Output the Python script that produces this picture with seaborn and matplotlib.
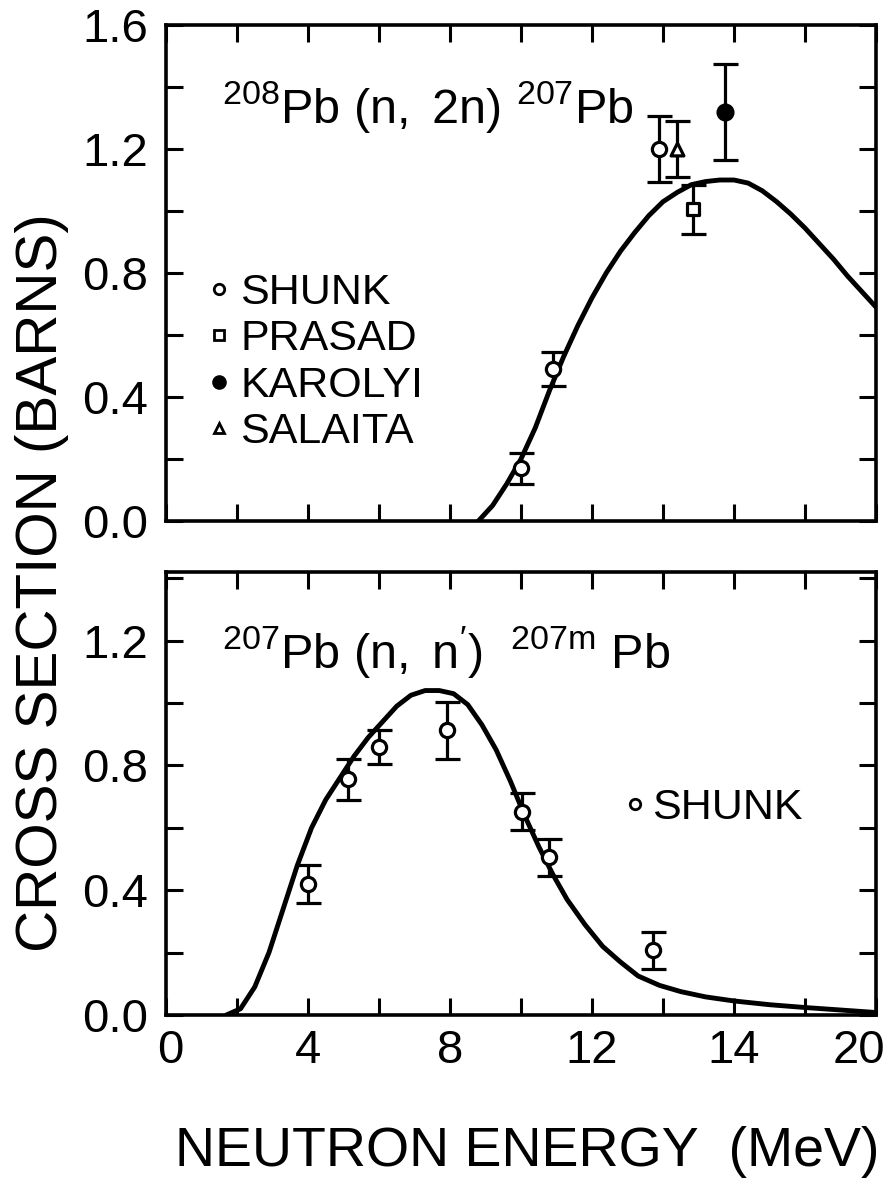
import matplotlib
matplotlib.use("Agg")
import matplotlib.pyplot as plt
import seaborn as sns
from matplotlib.lines import Line2D
from matplotlib.transforms import ScaledTranslation
from matplotlib.ticker import MultipleLocator, FixedLocator, FixedFormatter, FormatStrFormatter

# ---- 208Pb(n,2n)207Pb : calculated excitation function ----
n2n_curve_e = [8.8, 9.2, 9.6, 10.0, 10.4, 10.8, 11.2, 11.6, 12.0, 12.4, 12.8, 13.2,
               13.6, 14.0, 14.4, 14.8, 15.2, 15.6, 16.0, 16.4, 16.8, 17.2, 17.6,
               18.0, 18.4, 18.8, 19.2, 19.6, 20.0]
n2n_curve_xs = [0.00, 0.05, 0.12, 0.20, 0.30, 0.42, 0.53, 0.63, 0.72, 0.80, 0.87, 0.93,
                0.985, 1.03, 1.06, 1.085, 1.095, 1.10, 1.10, 1.09, 1.065, 1.03, 0.99,
                0.945, 0.895, 0.845, 0.79, 0.74, 0.69]

# measured points (energy MeV, cross section b, error b)
shunk_e, shunk_xs, shunk_err = [10.0, 10.9, 13.9], [0.17, 0.49, 1.20], [0.05, 0.055, 0.105]
prasad_e, prasad_xs, prasad_err = [14.85], [1.005], [0.08]
karolyi_e, karolyi_xs, karolyi_err = [15.75], [1.32], [0.155]
salaita_e, salaita_xs, salaita_err = [14.4], [1.20], [0.09]

# ---- 207Pb(n,n')207mPb : calculated excitation function ----
inel_curve_e = [1.7, 2.1, 2.5, 2.9, 3.3, 3.7, 4.1, 4.5, 4.9, 5.3, 5.7, 6.1, 6.5, 6.9,
                7.3, 7.7, 8.1, 8.5, 8.9, 9.3, 9.7, 10.1, 10.5, 10.9, 11.3, 11.8,
                12.3, 12.8, 13.3, 13.9, 14.5, 15.2, 16.0, 17.0, 18.0, 19.0, 20.0]
inel_curve_xs = [0.0, 0.02, 0.09, 0.20, 0.34, 0.48, 0.60, 0.69, 0.76, 0.83, 0.89, 0.94,
                 0.99, 1.025, 1.04, 1.04, 1.03, 0.995, 0.93, 0.85, 0.75, 0.64, 0.54,
                 0.45, 0.37, 0.29, 0.22, 0.17, 0.125, 0.095, 0.075, 0.058, 0.045,
                 0.033, 0.024, 0.016, 0.008]

shunk2_e = [4.0, 5.12, 6.0, 7.92, 10.02, 10.8, 13.72]
shunk2_xs = [0.42, 0.755, 0.858, 0.912, 0.652, 0.505, 0.207]
shunk2_err = [0.06, 0.065, 0.055, 0.09, 0.06, 0.06, 0.06]

x_tick_pos = [0, 4, 8, 12, 16, 20]
x_tick_txt = ["0", "4", "8", "12", "14", "20"]

sns.set_theme(style="ticks")
INK = "black"
plt.rcParams["font.family"] = ["Liberation Sans", "DejaVu Sans"]
plt.rcParams["mathtext.fontset"] = "custom"
plt.rcParams["mathtext.rm"] = "Liberation Sans"
plt.rcParams["mathtext.it"] = "Liberation Sans"
for key in ("text.color", "axes.labelcolor", "xtick.color", "ytick.color",
            "axes.edgecolor"):
    plt.rcParams[key] = INK

LW_CURVE = 3.5
LW_ERR = 2.3

fig = plt.figure(figsize=(8.92, 11.93), dpi=100)
fig.patch.set_facecolor("white")
W, H = 892, 1193
ax1 = fig.add_axes([166 / W, 1 - 521 / H, 710 / W, 496 / H])
ax2 = fig.add_axes([166 / W, 1 - 1015 / H, 710 / W, 443 / H])


def draw_points(ax, e, xs, err, marker, face, size):
    ax.errorbar(e, xs, yerr=err, fmt="none", ecolor=INK, elinewidth=LW_ERR,
                capsize=9, capthick=LW_ERR, zorder=3)
    sns.scatterplot(x=e, y=xs, ax=ax, marker=marker, s=size, color=face,
                    edgecolor=INK, linewidth=2.3, zorder=4, legend=False)


# top panel
sns.lineplot(x=n2n_curve_e, y=n2n_curve_xs, ax=ax1, color=INK, lw=LW_CURVE,
             estimator=None, sort=False, zorder=2)
draw_points(ax1, shunk_e, shunk_xs, shunk_err, "o", "white", 105)
draw_points(ax1, prasad_e, prasad_xs, prasad_err, "s", "white", 65)
draw_points(ax1, karolyi_e, karolyi_xs, karolyi_err, "o", INK, 115)
draw_points(ax1, salaita_e, salaita_xs, salaita_err, "^", "white", 85)

# bottom panel
sns.lineplot(x=inel_curve_e, y=inel_curve_xs, ax=ax2, color=INK, lw=LW_CURVE,
             estimator=None, sort=False, zorder=2)
draw_points(ax2, shunk2_e, shunk2_xs, shunk2_err, "o", "white", 105)

for ax, ytop in ((ax1, 1.6), (ax2, 1.42)):
    ax.set_xlim(0, 20)
    ax.set_ylim(0, ytop)
    ax.xaxis.set_major_locator(FixedLocator(x_tick_pos))
    ax.xaxis.set_major_formatter(FixedFormatter(x_tick_txt))
    ax.xaxis.set_minor_locator(MultipleLocator(2))
    ax.yaxis.set_major_locator(MultipleLocator(0.4))
    ax.yaxis.set_minor_locator(MultipleLocator(0.2))
    ax.yaxis.set_major_formatter(FormatStrFormatter("%.1f"))
    ax.tick_params(which="both", direction="in", top=True, right=True,
                   length=12, width=2.2, color=INK, labelsize=34, labelcolor=INK)
    ax.tick_params(axis="y", pad=13)
    ax.tick_params(axis="x", pad=10)
    for sp in ax.spines.values():
        sp.set_visible(True)
        sp.set_linewidth(2.6)
        sp.set_color(INK)
    ax.set_xlabel("")
    ax.set_ylabel("")
    ax.set_facecolor("white")

ax1.tick_params(axis="x", labelbottom=False)

# nudge the end labels of the energy axis inward so they stay on the page
for lbl in ax2.get_xticklabels():
    if lbl.get_text() == "20":
        lbl.set_transform(lbl.get_transform() + ScaledTranslation(-12 / 72, 0, fig.dpi_scale_trans))
    elif lbl.get_text() == "0":
        lbl.set_transform(lbl.get_transform() + ScaledTranslation(3 / 72, 0, fig.dpi_scale_trans))

# reaction labels
ax1.text(1.58, 1.284, r"$\mathregular{^{208}Pb\ (n,\ 2n)\ ^{207}Pb}$",
         fontsize=35, va="baseline", ha="left")
ax2.text(1.58, 1.112, r"$\mathregular{^{207}Pb\ (n,\ n')\ \ ^{207m}\ Pb}$",
         fontsize=35, va="baseline", ha="left")

# legends
def handle(marker, face, ms):
    return Line2D([], [], ls="none", marker=marker, mfc=face, mec=INK, mew=2.0, ms=ms)

ax1.legend([handle("o", "white", 7.5), handle("s", "white", 6.5),
            handle("o", INK, 8.5), handle("^", "white", 7.5)],
           ["SHUNK", "PRASAD", "KAROLYI", "SALAITA"],
           loc="upper left", bbox_to_anchor=(0.062, 0.50), frameon=False,
           fontsize=31, handlelength=0.4, handletextpad=0.3, labelspacing=0.15,
           borderaxespad=0, borderpad=0, labelcolor=INK)
ax2.legend([handle("o", "white", 7.5)], ["SHUNK"],
           loc="center left", bbox_to_anchor=(0.648, 0.467), frameon=False,
           fontsize=31, handlelength=0.4, handletextpad=0.2,
           borderaxespad=0, borderpad=0, labelcolor=INK)

fig.text(0.047, 0.512, "CROSS SECTION (BARNS)", rotation=90, ha="center",
         va="center", fontsize=42)
fig.text(0.591, 0.034, "NEUTRON ENERGY  (MeV)", ha="center", va="center",
         fontsize=40)

fig.savefig("out.png", dpi=100, facecolor="white")
